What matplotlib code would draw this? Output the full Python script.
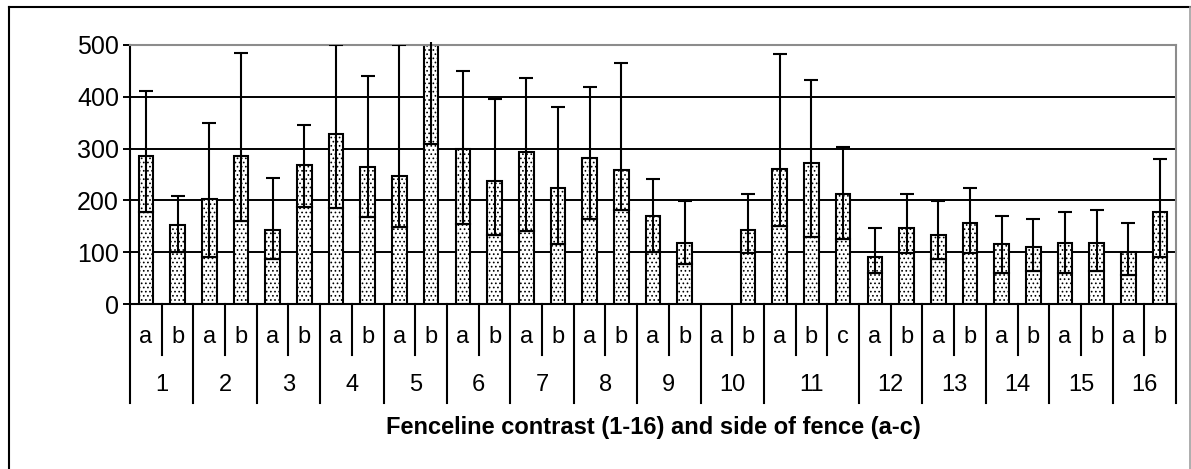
import matplotlib
matplotlib.use("Agg")
import matplotlib.pyplot as plt
import numpy as np
from matplotlib.lines import Line2D
import matplotlib.transforms as mtransforms

plt.rcParams['font.family'] = ['Liberation Sans', 'DejaVu Sans']
plt.rcParams['hatch.linewidth'] = 0.7

# ---- data ----
groups = ['1', '2', '3', '4', '5', '6', '7', '8', '9', '10', '11', '12', '13', '14', '15', '16']
sides = [['a', 'b'], ['a', 'b'], ['a', 'b'], ['a', 'b'], ['a', 'b'], ['a', 'b'], ['a', 'b'],
         ['a', 'b'], ['a', 'b'], ['a', 'b'], ['a', 'b', 'c'], ['a', 'b'], ['a', 'b'],
         ['a', 'b'], ['a', 'b'], ['a', 'b']]
lower = [178, 101, 90, 161, 87, 188, 185, 167, 149, 309, 154, 133, 140, 115, 164, 181,
         101, 77, np.nan, 98, 150, 129, 125, 59, 98, 87, 98, 59, 63, 59, 63, 56, 91]
total = [286, 153, 202, 286, 143, 269, 328, 265, 248, 500, 299, 237, 293, 223, 282, 258,
         170, 118, np.nan, 143, 261, 272, 213, 91, 146, 133, 157, 115, 111, 118, 118, 101, 178]
err_top = [412, 209, 349, 485, 244, 345, 500, 440, 500, 506, 450, 395, 436, 380, 419, 465,
           241, 199, np.nan, 213, 482, 432, 304, 147, 213, 199, 223, 170, 164, 178, 181, 157, 279]
yticks = [0, 100, 200, 300, 400, 500]
xlabel = 'Fenceline contrast (1-16) and side of fence (a-c)'

lower = np.array(lower, float)
total = np.array(total, float)
err_top = np.array(err_top, float)
n = len(lower)
x = np.arange(n)

W, H = 1191, 469
fig = plt.figure(figsize=(W / 100, H / 100), dpi=100)
ax = fig.add_axes([130 / W, 1 - 304 / H, (1176 - 130) / W, (304 - 45) / H])

valid = ~np.isnan(total)
bw = 0.46
bar_kw = dict(width=bw, color='white', edgecolor='black', linewidth=1.5, hatch='....', zorder=2)
ax.bar(x[valid], lower[valid], **bar_kw)
ax.bar(x[valid], (total - lower)[valid], bottom=lower[valid], **bar_kw)

ax.set_ylim(0, 500)
ax.set_xlim(-0.5, n - 0.5)

# error bars from the lower segment top
capped = valid & (err_top <= 500)
over = valid & (err_top > 500)
ax.errorbar(x[capped], lower[capped], yerr=[np.zeros(capped.sum()), (err_top - lower)[capped]],
            fmt='none', ecolor='black', elinewidth=1.5, capsize=5.3, capthick=1.5, zorder=3)
ax.errorbar(x[over], lower[over], yerr=[np.zeros(over.sum()), (err_top - lower)[over]],
            fmt='none', ecolor='black', elinewidth=1.5, capsize=0, zorder=3, clip_on=False)

# grid
ax.set_yticks(yticks)
ax.set_yticklabels([str(v) for v in yticks], fontsize=18)
for v in yticks[1:-1]:
    ax.axhline(v, color='black', linewidth=1.4, zorder=1)
ax.tick_params(axis='y', direction='out', length=5, width=1.4, pad=3)
ax.set_xticks([])
for s in ['top', 'right']:
    ax.spines[s].set_color('#8c8c8c')
    ax.spines[s].set_linewidth(1.5)
for s in ['left', 'bottom']:
    ax.spines[s].set_color('black')
    ax.spines[s].set_linewidth(1.5)

# category axis (two-level labels)
trans = mtransforms.blended_transform_factory(ax.transData, ax.transAxes)
ah = 259.0
pos = 0
bounds = [-0.5]
for g, sd in zip(groups, sides):
    start = pos
    for i, s in enumerate(sd):
        ax.text(pos, -33 / ah, s, transform=trans, ha='center', va='center', fontsize=17)
        if i > 0:
            ax.add_line(Line2D([pos - 0.5, pos - 0.5], [0, -51 / ah], transform=trans,
                               color='black', linewidth=1.5, clip_on=False))
        pos += 1
    ax.text((start + pos - 1) / 2, -81 / ah, g, transform=trans, ha='center', va='center', fontsize=17)
    bounds.append(pos - 0.5)
for b in bounds:
    ax.add_line(Line2D([b, b], [0, -99 / ah], transform=trans, color='black',
                       linewidth=1.5, clip_on=False))
ax.text(0.5, -123 / ah, xlabel, transform=ax.transAxes, ha='center', va='center',
        fontsize=17, fontweight='bold')

# outer chart border
fig.add_artist(Line2D([8.5 / W, 8.5 / W], [0, 1 - 7.5 / H], color='black', linewidth=1.5))
fig.add_artist(Line2D([8.5 / W, 1], [1 - 7.5 / H, 1 - 7.5 / H], color='black', linewidth=1.5))
fig.add_artist(Line2D([1189.5 / W, 1189.5 / W], [0, 1 - 7.5 / H], color='#a0a0a0', linewidth=1.2))

fig.savefig('out.png', dpi=100)
